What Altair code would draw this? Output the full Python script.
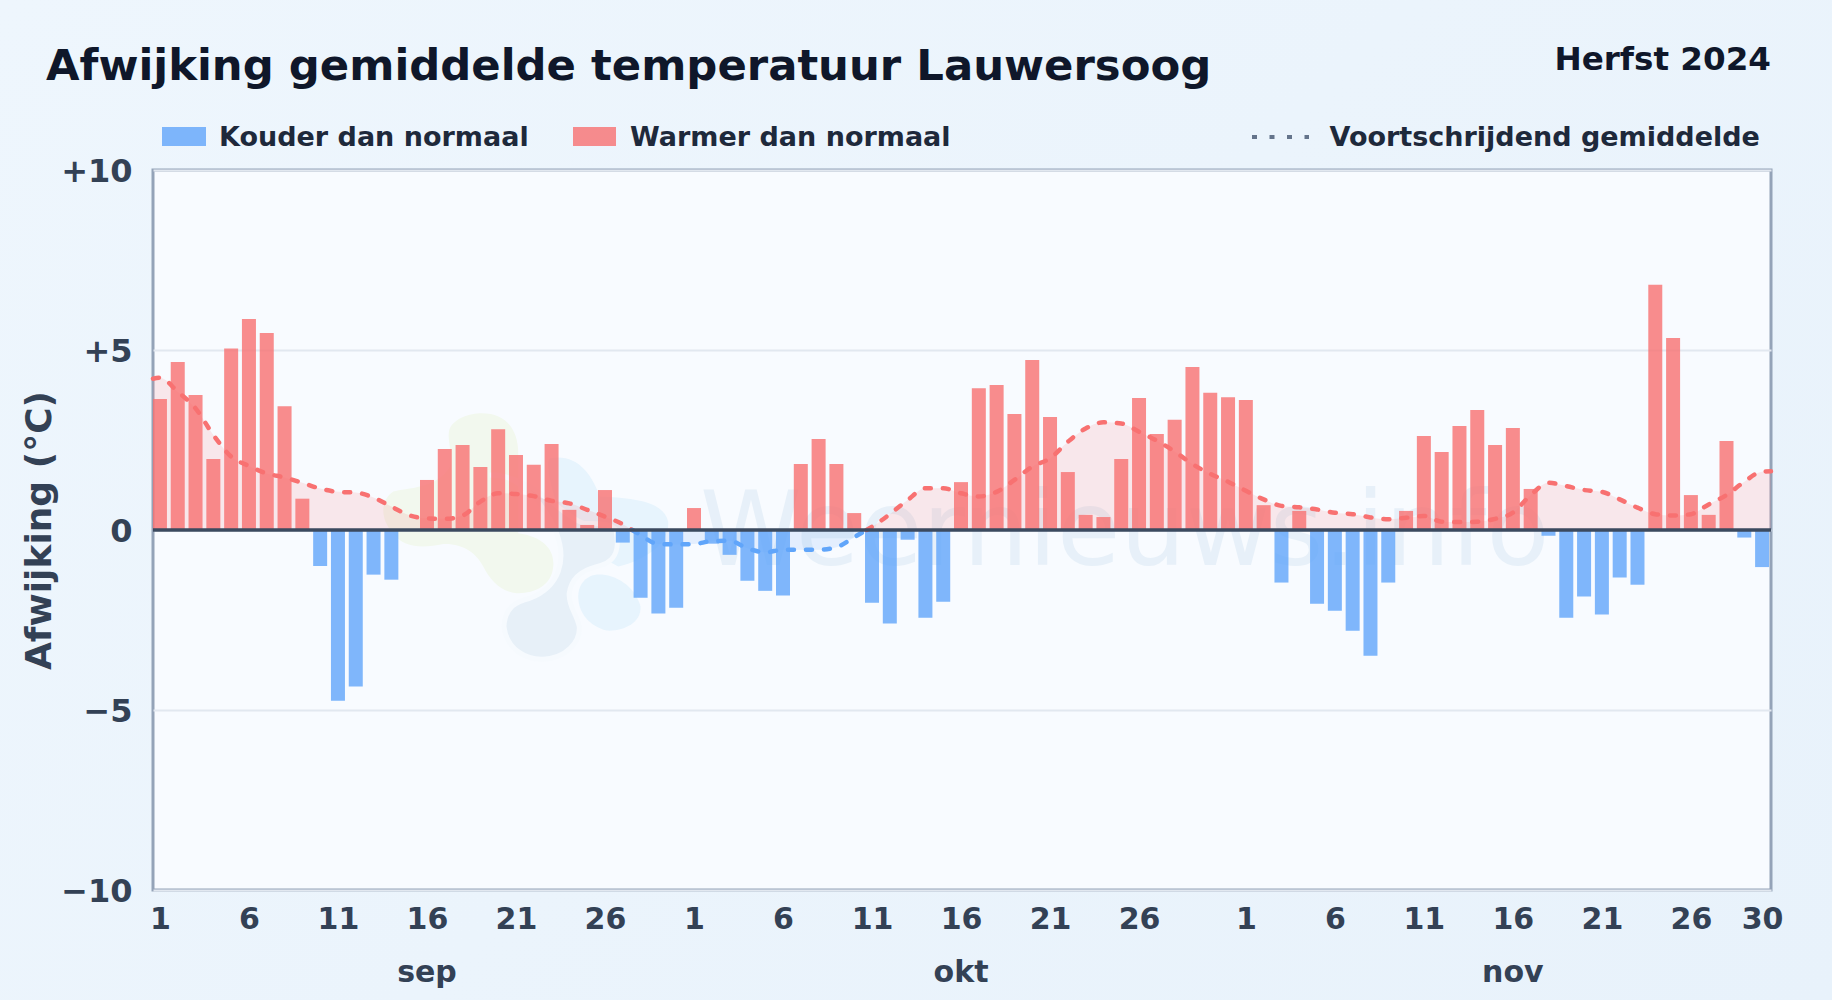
import altair as alt
import pandas as pd

# Daily temperature deviation (degrees C) per month
sep_values = [3.64, 4.67, 3.75, 1.97, 5.04, 5.86, 5.47, 3.44, 0.87, -1.00, -4.74, -4.35, -1.24, -1.38, 0.0,
              1.39, 2.25, 2.36, 1.75, 2.80, 2.08, 1.81, 2.39, 0.56, 0.14, 1.11, -0.35, -1.88, -2.32, -2.16]
okt_values = [0.61, -0.38, -0.69, -1.41, -1.69, -1.82, 1.83, 2.53, 1.83, 0.47, -2.02, -2.60, -0.27, -2.44, -1.99,
              1.33, 3.94, 4.03, 3.22, 4.72, 3.14, 1.61, 0.42, 0.36, 1.97, 3.67, 2.67, 3.06, 4.53, 3.81, 3.69]
nov_values = [3.61, 0.69, -1.46, 0.53, -2.05, -2.24, -2.80, -3.49, -1.46, 0.53, 2.61, 2.17, 2.89, 3.33, 2.36,
              2.83, 1.14, -0.16, -2.44, -1.85, -2.35, -1.32, -1.52, 6.81, 5.33, 0.97, 0.42, 2.47, -0.21, -1.03]

# Running mean per month
sep_mean = [4.23, 3.84, 3.38, 2.64, 2.04, 1.78, 1.57, 1.46, 1.31, 1.15, 1.06, 1.04, 0.90, 0.65, 0.41,
            0.32, 0.31, 0.40, 0.79, 1.02, 1.00, 0.94, 0.81, 0.74, 0.56, 0.37, 0.16, -0.14, -0.39, -0.40]
okt_mean = [-0.39, -0.31, -0.30, -0.51, -0.62, -0.55, -0.55, -0.55, -0.48, -0.20, 0.09, 0.44, 0.83, 1.16, 1.16,
            1.02, 0.93, 1.06, 1.39, 1.76, 1.99, 2.45, 2.82, 2.99, 2.96, 2.73, 2.48, 2.18, 1.83, 1.56, 1.34]
nov_mean = [1.09, 0.85, 0.67, 0.63, 0.57, 0.48, 0.44, 0.35, 0.30, 0.34, 0.39, 0.23, 0.22, 0.23, 0.31,
            0.48, 0.97, 1.31, 1.22, 1.11, 1.06, 0.85, 0.62, 0.44, 0.40, 0.44, 0.71, 0.97, 1.34, 1.62]
mean_edge_left = 4.20
mean_edge_right = 1.63

month_names = ["sep", "okt", "nov"]
month_label_days = [15, 45, 76]
tick_days = [0, 5, 10, 15, 20, 25, 30, 35, 40, 45, 50, 55, 61, 66, 71, 76, 81, 86, 90]
y_ticks = [-10, -5, 0, 5, 10]

COLD = "#60a5fa"
WARM = "#f87171"
FONT = "DejaVu Sans"
X_MIN, X_MAX = -0.39, 90.5

values = sep_values + okt_values + nov_values
bars = pd.DataFrame({
    "i": list(range(len(values))),
    "v": values,
    "kind": ["warm" if v >= 0 else "cold" for v in values],
})

# running mean, split into warm and cold runs at each zero crossing
mean_vals = sep_mean + okt_mean + nov_mean
mean_pts = [(X_MIN, mean_edge_left)] + list(enumerate(mean_vals)) + [(X_MAX, mean_edge_right)]
rows, seg = [], 0
for n, (x, v) in enumerate(mean_pts):
    if n:
        px, pv = mean_pts[n - 1]
        if pv * v < 0:
            cross = px + (x - px) * pv / (pv - v)
            rows.append({"i": cross, "v": 0.0, "kind": "warm" if pv > 0 else "cold", "seg": seg})
            seg += 1
            rows.append({"i": cross, "v": 0.0, "kind": "warm" if v > 0 else "cold", "seg": seg})
    rows.append({"i": x, "v": v, "kind": "warm" if v >= 0 else "cold", "seg": seg})
mean_df = pd.DataFrame(rows)

one = pd.DataFrame({"a": [0]})
xs = alt.Scale(domain=[X_MIN, X_MAX], nice=False, zero=False, padding=0)
ys = alt.Scale(domain=[-10, 10], nice=False, zero=False)
kind_scale = alt.Scale(domain=["cold", "warm"], range=[COLD, WARM])

x_axis = alt.Axis(
    values=tick_days, grid=False, domain=False, ticks=False, labelFont=FONT, labelFontSize=30,
    labelFontWeight="bold", labelColor="#334155", labelPadding=14, labelOverlap=False, labelFlush=False,
    labelBound=False, title=None,
    labelExpr="datum.value<30?datum.value+1:datum.value<61?datum.value-29:datum.value-60")
y_axis = alt.Axis(
    values=y_ticks, grid=True, gridColor="#e2e8f0", gridWidth=2, domain=False, ticks=False, labelFont=FONT,
    labelFontSize=32, labelFontWeight="bold", labelColor="#334155", labelPadding=21, labelOffset=1,
    labelExpr="datum.value>0?'+'+datum.value:datum.value<0?'\u2212'+abs(datum.value):'0'",
    title="Afwijking (\u00b0C)", titleFont=FONT, titleFontSize=36, titleFontWeight="bold",
    titleColor="#334155", titleX=-114, titleY=360, titleAngle=270, titleAlign="center",
    titleBaseline="middle")
x_enc = alt.X("i:Q", scale=xs, axis=x_axis)
y_enc = alt.Y("v:Q", scale=ys, axis=y_axis)
color_enc = alt.Color("kind:N", scale=kind_scale, legend=None)


def text(label, x, y, size, color, align="left", weight="bold", **kw):
    return alt.Chart(one).mark_text(text=label, font=FONT, fontSize=size, fontWeight=weight, color=color,
                                    align=align, baseline="alphabetic", **kw).encode(
        x=alt.value(x), y=alt.value(y))


def blob(path, color, **kw):
    return alt.Chart(one).mark_point(shape=path, size=0.444, filled=True, fill=color, opacity=1, **kw).encode(
        x=alt.value(217), y=alt.value(230))


green = blob("M335 40C410 40 445 90 445 160L445 400C520 410 555 450 550 500C545 560 490 582 440 580"
             "C390 575 360 540 340 500C320 460 280 430 220 432C160 445 100 445 70 400C30 360 30 300 70 275"
             "C110 262 200 268 240 200C250 160 230 120 238 90C250 55 300 40 335 40Z", "#f2f8ee")
blue_a = blob("M540 175C620 160 665 220 690 290C780 295 880 300 895 365C900 430 830 480 745 500L600 420"
              "C560 330 520 190 540 175Z", "#e7f4fd")
blue_b = blob("M660 530C700 510 790 540 812 620C815 670 760 695 710 692C660 680 625 640 625 590"
              "C625 560 640 540 660 530Z", "#e7f4fd")
grey = blob("M360 225C430 215 520 300 560 400C590 480 570 560 480 595C440 605 405 620 402 680"
            "C410 750 470 780 520 778C590 775 632 725 628 680C620 640 595 620 598 580C605 530 640 510 680 500"
            "C730 490 750 460 740 400C740 380 720 370 640 370C560 340 500 230 360 225Z", "#e7f0f8",
            stroke="#f6fafe", strokeWidth=5)

watermark = text("Weernieuws.info", 547, 395, 103, "#2a7ab8", weight="normal", opacity=0.08)

area = alt.Chart(mean_df).mark_area(interpolate="monotone", opacity=0.14).encode(
    x=x_enc, y=y_enc, y2=alt.datum(0), detail="seg:N", color=color_enc)

bar_layer = alt.Chart(bars).mark_bar(size=14, opacity=0.8).encode(x=x_enc, y=y_enc, color=color_enc)

line = alt.Chart(mean_df).mark_line(interpolate="monotone", strokeWidth=4.5, strokeDash=[6, 12],
                                    strokeCap="round").encode(
    x=x_enc, y=y_enc, detail="seg:N", color=color_enc)

zero = alt.Chart(one).mark_rule(color="#3b4a5f", strokeWidth=3.6).encode(
    y=alt.Y(datum=0, scale=ys, axis=y_axis))

months = alt.Chart(pd.DataFrame({"i": month_label_days, "m": month_names})).mark_text(
    font=FONT, fontSize=30, fontWeight="bold", color="#334155", baseline="alphabetic").encode(
    x=x_enc, y=alt.value(812), text="m:N")

swatch_cold = alt.Chart(one).mark_rect(color=COLD, opacity=0.8).encode(
    x=alt.value(9), x2=alt.value(53), y=alt.value(-43), y2=alt.value(-24))
swatch_warm = alt.Chart(one).mark_rect(color=WARM, opacity=0.8).encode(
    x=alt.value(420), x2=alt.value(463), y=alt.value(-43), y2=alt.value(-24))
swatch_mean = alt.Chart(one).mark_rule(color="#64748b", strokeWidth=4, strokeDash=[5, 12.5]).encode(
    x=alt.value(1099), x2=alt.value(1156), y=alt.value(-33))

chart = alt.layer(
    green, blue_a, blue_b, grey, watermark, area, bar_layer, line, zero, months,
    swatch_cold, swatch_warm, swatch_mean,
    text("Kouder dan normaal", 66, -24, 27, "#1e293b"),
    text("Warmer dan normaal", 477, -24, 27, "#1e293b"),
    text("Voortschrijdend gemiddelde", 1176.5, -24, 27, "#1e293b"),
    text("Herfst 2024", 1618, -100, 32.6, "#0f172a", align="right"),
    text("Afwijking gemiddelde temperatuur Lauwersoog", -107, -90, 43.35, "#0f172a"),
).properties(
    width=1618, height=720,
    padding={"left": 153, "top": 170, "right": 61, "bottom": 110},
    autosize=alt.AutoSizeParams(type="none"),
    background="transparent",
).configure_view(fill="#f8fbff", stroke="#94a3b8", strokeWidth=3)

chart.save("out.html", embed_options={
    "renderer": "svg", "actions": False,
    "defaultStyle": "html,body{margin:0;overflow:hidden;background:linear-gradient(135deg,#eef6fd,#e8f2fb);}"
})
